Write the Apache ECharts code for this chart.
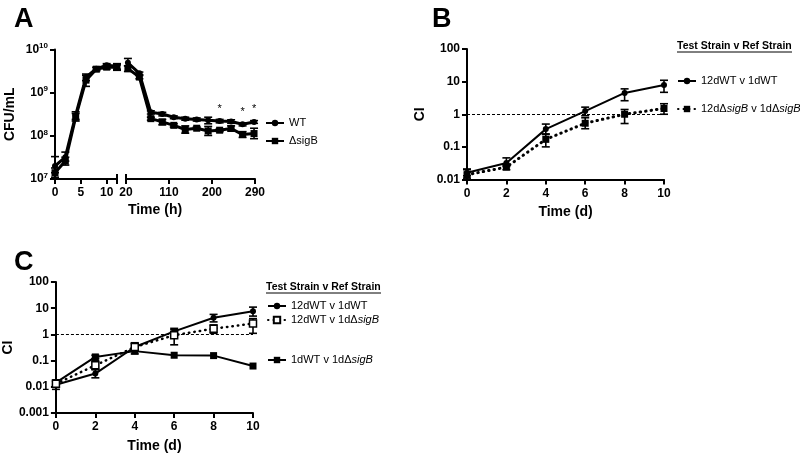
<!DOCTYPE html>
<html>
<head>
<meta charset="utf-8">
<script src="https://cdn.jsdelivr.net/npm/echarts@6/dist/echarts.min.js"></script>
<style>
html, body { margin: 0; padding: 0; background: #fff; }
#main { width: 800px; height: 457px; }
</style>
</head>
<body>
<div id="main"></div>
<script>
// ---- Panel A: CFU/mL over time (broken x axis) ----
const hoursEarly = [0, 2, 4, 6, 8, 10, 12]
const hoursLate = [24, 48, 72, 96, 120, 144, 168, 192, 216, 240, 264, 288]
const starHours = [216, 264, 288]

const wtEarly = [2.0e7, 3.2e7, 3.0e8, 2.3e9, 3.6e9, 4.3e9, 4.1e9]
const wtEarlyErr = [[1.4e7, 3.3e7], [2.6e7, 4.2e7], [2.4e8, 3.6e8], [1.9e9, 2.7e9], [3.3e9, 3.9e9], [3.9e9, 4.7e9], [3.5e9, 4.7e9]]
const sigBEarly = [1.4e7, 2.6e7, 2.7e8, 1.95e9, 3.5e9, 3.9e9, 3.9e9]
const sigBEarlyErr = [[1.1e7, 1.8e7], [2.1e7, 3.2e7], [2.2e8, 3.3e8], [1.4e9, 2.5e9], [3.2e9, 3.8e9], [3.5e9, 4.3e9], [3.3e9, 4.4e9]]

const wtLate = [4.9e9, 2.8e9, 3.5e8, 3.2e8, 2.7e8, 2.5e8, 2.4e8, 2.3e8, 2.2e8, 2.15e8, 1.85e8, 2.1e8]
const wtLateErr = [[4.2e9, 6.2e9], [2.6e9, 3.0e9], [3.2e8, 3.8e8], [2.9e8, 3.5e8], [2.5e8, 2.9e8], [2.3e8, 2.7e8], [2.2e8, 2.6e8], [1.9e8, 2.7e8], [2.0e8, 2.4e8], [1.95e8, 2.35e8], [1.7e8, 2.0e8], [1.95e8, 2.25e8]]
const sigBLate = [3.6e9, 2.3e9, 2.5e8, 2.1e8, 1.75e8, 1.4e8, 1.5e8, 1.3e8, 1.35e8, 1.48e8, 1.07e8, 1.13e8]
const sigBLateErr = [[3.1e9, 4.2e9], [2.1e9, 2.5e9], [2.3e8, 2.7e8], [1.8e8, 2.4e8], [1.6e8, 1.9e8], [1.15e8, 1.7e8], [1.4e8, 1.6e8], [1.02e8, 1.65e8], [1.25e8, 1.45e8], [1.3e8, 1.7e8], [0.92e8, 1.25e8], [0.86e8, 1.5e8]]

// ---- Panel B: competitive index ----
const days = [0, 2, 4, 6, 8, 10]
const wtB = [0.016, 0.032, 0.35, 1.25, 4.5, 7.9]
const wtBErr = [[0.013, 0.021], [0.025, 0.046], [0.24, 0.5], [0.9, 1.65], [2.6, 6], [4.7, 11]]
const sigBB = [0.014, 0.024, 0.17, 0.53, 1.0, 1.5]
const sigBBErr = [[0.011, 0.02], [0.02, 0.027], [0.1, 0.25], [0.36, 0.78], [0.52, 1.4], [1.0, 2.1]]

// ---- Panel C ----
const wtC = [0.012, 0.032, 0.33, 1.3, 4.3, 7.6]
const wtCErr = [[0.008, 0.016], [0.022, 0.046], [0.25, 0.48], [0.95, 1.7], [3.0, 5.8], [5, 11]]
const mixC = [0.013, 0.066, 0.33, 0.93, 1.65, 2.6]
const mixCErr = [[0.011, 0.016], [0.045, 0.1], [0.25, 0.45], [0.4, 1.5], [1.1, 2.3], [1.1, 4]]
const oneDayC = [0.0145, 0.138, 0.23, 0.16, 0.155, 0.062]
const oneDayCErr = [[0.012, 0.018], [0.12, 0.16], [0.18, 0.3], null, null, null]

const FONT = '"Liberation Sans", Arial, sans-serif'
const NAME_WT = '12dWT v 1dWT'
const NAME_SIGB = '12d\u0394sigB v 1d\u0394sigB'
const NAME_MIX = '12dWT v 1d\u0394sigB'
const NAME_ONE = '1dWT v 1d\u0394sigB'

let oMain = document.getElementById('main')
let oChart = echarts.init(oMain)

function zip(xs, ys) {
  return xs.map((x, i) => [x, ys[i]])
}

function errData(xs, errs) {
  let out = []
  xs.forEach((x, i) => { if (errs[i]) out.push([x, errs[i][0], errs[i][1]]) })
  return out
}

function renderErr(params, api) {
  let x = api.value(0)
  let lo = api.coord([x, api.value(1)])
  let hi = api.coord([x, api.value(2)])
  let w = 4
  let st = { stroke: '#000', lineWidth: 1.6 }
  return {
    type: 'group',
    children: [
      { type: 'line', shape: { x1: lo[0], y1: lo[1], x2: hi[0], y2: hi[1] }, style: st },
      { type: 'line', shape: { x1: lo[0] - w, y1: lo[1], x2: lo[0] + w, y2: lo[1] }, style: st },
      { type: 'line', shape: { x1: hi[0] - w, y1: hi[1], x2: hi[0] + w, y2: hi[1] }, style: st }
    ]
  }
}

function errSeries(idx, xs, errs) {
  return {
    type: 'custom', xAxisIndex: idx, yAxisIndex: idx, renderItem: renderErr,
    data: errData(xs, errs), encode: { x: 0, y: [1, 2] }, clip: false, z: 4, silent: true
  }
}

function line(name, idx, data, symbol, width, dotted, extra) {
  let s = {
    name: name, type: 'line', xAxisIndex: idx, yAxisIndex: idx, data: data,
    symbol: symbol, symbolSize: symbol === 'circle' ? 6 : 7, clip: false, z: 3,
    itemStyle: { color: '#000' },
    lineStyle: { color: '#000', width: width },
    emphasis: { disabled: true }
  }
  if (dotted) {
    s.lineStyle.type = [0.5, 5]
    s.lineStyle.cap = 'round'
  }
  return Object.assign(s, extra || {})
}

const axisLineStyle = { show: true, lineStyle: { color: '#000', width: 2 } }
const tickStyle = { show: true, length: 5, lineStyle: { color: '#000', width: 2 } }
const labelStyle = { color: '#000', fontFamily: FONT, fontWeight: 'bold', fontSize: 12 }
const nameStyle = { color: '#000', fontFamily: FONT, fontWeight: 'bold', fontSize: 14 }

function ciLabel(v) {
  return v >= 1 ? String(Math.round(v)) : String(+v.toPrecision(1))
}

function xValue(idx, min, max, extra) {
  return Object.assign({
    type: 'value', gridIndex: idx, min: min, max: max,
    axisLine: axisLineStyle, axisTick: tickStyle, splitLine: { show: false },
    axisLabel: Object.assign({ margin: 8 }, labelStyle)
  }, extra || {})
}

function yLog(idx, min, max, extra) {
  return Object.assign({
    type: 'log', logBase: 10, gridIndex: idx, min: min, max: max,
    axisLine: axisLineStyle, axisTick: tickStyle, splitLine: { show: false },
    minorTick: { show: false },
    axisLabel: Object.assign({ margin: 7, formatter: ciLabel }, labelStyle)
  }, extra || {})
}

const legendText = { color: '#000', fontFamily: FONT, fontSize: 11, lineHeight: 12,
  rich: { i: { fontStyle: 'italic', fontFamily: FONT, fontSize: 11, color: '#000' } } }

function legendFmt(name) {
  return name.replace(/sigB/g, function (m) { return name === '\u0394sigB' ? m : '{i|' + m + '}' })
}

function legend(names, left, top, gap) {
  return {
    data: names, orient: 'vertical', left: left, top: top, itemGap: gap,
    itemWidth: 18, itemHeight: 8, selectedMode: false, padding: 0,
    formatter: legendFmt, textStyle: legendText
  }
}

const RequOption = {
  animation: false,
  backgroundColor: '#fff',
  grid: [
    { left: 55, top: 49.5, width: 62, height: 129.5 },
    { left: 126, top: 49.5, width: 129, height: 129.5 },
    { left: 467, top: 49, width: 197, height: 130.5 },
    { left: 55.5, top: 282, width: 197.5, height: 131 }
  ],
  xAxis: [
    xValue(0, 0, 12, { interval: 5, axisLabel: Object.assign({ margin: 8, showMaxLabel: false }, labelStyle) }),
    xValue(1, 20, 290, {
      axisTick: Object.assign({ customValues: [20, 110, 200, 290] }, tickStyle),
      axisLabel: Object.assign({ margin: 8, customValues: [20, 110, 200, 290] }, labelStyle)
    }),
    xValue(2, 0, 10, { interval: 2, name: 'Time (d)', nameLocation: 'middle', nameGap: 26, nameTextStyle: nameStyle }),
    xValue(3, 0, 10, { interval: 2, name: 'Time (d)', nameLocation: 'middle', nameGap: 26, nameTextStyle: nameStyle })
  ],
  yAxis: [
    yLog(0, 1e7, 1e10, {
      name: 'CFU/mL', nameLocation: 'middle', nameGap: 38, nameTextStyle: nameStyle,
      axisLabel: Object.assign({
        margin: 7,
        formatter: function (v) { return '10{sup|' + Math.round(Math.log10(v)) + '}' },
        rich: { sup: { fontSize: 8, fontWeight: 'bold', fontFamily: FONT, color: '#000', verticalAlign: 'bottom', padding: [0, 0, 7, 0] } }
      }, labelStyle)
    }),
    yLog(1, 1e7, 1e10, { show: false }),
    yLog(2, 0.01, 100, { name: 'CI', nameLocation: 'middle', nameGap: 40, nameTextStyle: nameStyle }),
    yLog(3, 0.001, 100, { name: 'CI', nameLocation: 'middle', nameGap: 40, nameTextStyle: nameStyle })
  ],
  legend: [
    legend(['WT', '\u0394sigB'], 265, 117, 6),
    legend([NAME_WT, NAME_SIGB], 677, 75, 16),
    legend([NAME_WT, NAME_MIX], 267, 300, 2),
    legend([NAME_ONE], 267, 354, 2)
  ],
  series: [
    line('WT', 0, zip(hoursEarly, wtEarly), 'circle', 3, false),
    line('\u0394sigB', 0, zip(hoursEarly, sigBEarly), 'rect', 3, false),
    line('WT', 1, hoursLate.map((t, i) => starHours.indexOf(t) >= 0
      ? { value: [t, wtLate[i]], label: { show: true, formatter: '*', position: 'top', distance: 4, fontSize: 11, color: '#000', fontFamily: FONT } }
      : [t, wtLate[i]]), 'circle', 3, false),
    line('\u0394sigB', 1, zip(hoursLate, sigBLate), 'rect', 3, false),
    errSeries(0, hoursEarly, wtEarlyErr),
    errSeries(0, hoursEarly, sigBEarlyErr),
    errSeries(1, hoursLate, wtLateErr),
    errSeries(1, hoursLate, sigBLateErr),

    line(NAME_WT, 2, zip(days, wtB), 'circle', 2, false, {
      markLine: {
        silent: true, symbol: 'none', label: { show: false },
        lineStyle: { color: '#000', width: 1.2, type: [3, 2] }, data: [{ yAxis: 1 }]
      }
    }),
    line(NAME_SIGB, 2, zip(days, sigBB), 'rect', 3, true),
    errSeries(2, days, wtBErr),
    errSeries(2, days, sigBBErr),

    line(NAME_WT, 3, zip(days, wtC), 'circle', 2, false, {
      markLine: {
        silent: true, symbol: 'none', label: { show: false },
        lineStyle: { color: '#000', width: 1.2, type: [3, 2] }, data: [{ yAxis: 1 }]
      }
    }),
    line(NAME_MIX, 3, zip(days, mixC), 'rect', 2.5, true, {
      symbolSize: 7, itemStyle: { color: '#fff', borderColor: '#000', borderWidth: 1.5 }, z: 5
    }),
    line(NAME_ONE, 3, zip(days, oneDayC), 'rect', 2, false),
    errSeries(3, days, wtCErr),
    errSeries(3, days, mixCErr),
    errSeries(3, days, oneDayCErr)
  ]
}

oChart.setOption(RequOption)

// axis break bars and free text
let pEnd = oChart.convertToPixel({ xAxisIndex: 0, yAxisIndex: 0 }, [12, 1e7])
let pStart = oChart.convertToPixel({ xAxisIndex: 1, yAxisIndex: 1 }, [20, 1e7])
let pMid = oChart.convertToPixel({ xAxisIndex: 0, yAxisIndex: 0 }, [0, 1e7])
let pLast = oChart.convertToPixel({ xAxisIndex: 1, yAxisIndex: 1 }, [290, 1e7])
const barStyle = { stroke: '#000', lineWidth: 2 }
const letterFont = 'bold 27px ' + FONT
const legTitleFont = 'bold 10.5px ' + FONT

oChart.setOption({
  graphic: { elements: [
    { type: 'line', shape: { x1: pEnd[0], y1: pEnd[1] - 5, x2: pEnd[0], y2: pEnd[1] + 5 }, style: barStyle },
    { type: 'line', shape: { x1: pStart[0], y1: pStart[1] - 5, x2: pStart[0], y2: pStart[1] + 5 }, style: barStyle },
    { type: 'text', x: (pMid[0] + pLast[0]) / 2, y: 210, style: { text: 'Time (h)', font: 'bold 14px ' + FONT, fill: '#000', textAlign: 'center', textVerticalAlign: 'middle' } },
    { type: 'text', x: 14, y: 6, style: { text: 'A', font: letterFont, fill: '#000' } },
    { type: 'text', x: 432, y: 6, style: { text: 'B', font: letterFont, fill: '#000' } },
    { type: 'text', x: 14, y: 249, style: { text: 'C', font: letterFont, fill: '#000' } },
    { type: 'text', x: 677, y: 46, style: { text: 'Test Strain v Ref Strain', font: legTitleFont, fill: '#000', textVerticalAlign: 'middle' } },
    { type: 'line', shape: { x1: 677, y1: 52, x2: 792, y2: 52 }, style: { stroke: '#000', lineWidth: 1 } },
    { type: 'text', x: 266, y: 287, style: { text: 'Test Strain v Ref Strain', font: legTitleFont, fill: '#000', textVerticalAlign: 'middle' } },
    { type: 'line', shape: { x1: 266, y1: 293, x2: 381, y2: 293 }, style: { stroke: '#000', lineWidth: 1 } }
  ] }
})
</script>
</body>
</html>
